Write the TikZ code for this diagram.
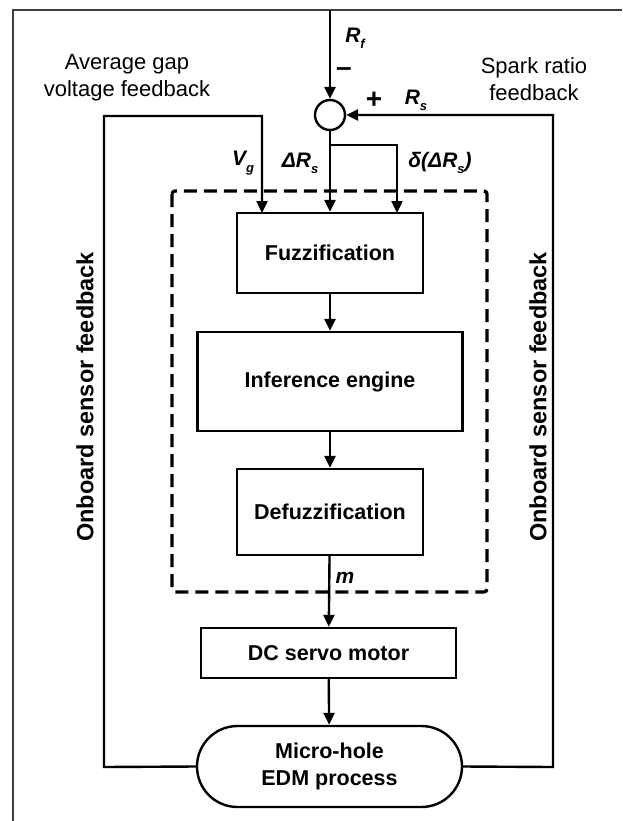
\documentclass[tikz,border=0pt]{standalone}
\usepackage{fontspec}
\setmainfont{Liberation Sans}
\usetikzlibrary{arrows.meta,shapes.misc}
\newcommand\sbs[1]{\raisebox{-0.3em}{\fontsize{13}{13}\selectfont #1}}
\begin{document}
\begin{tikzpicture}[x=1pt,y=-1pt,
  line width=2.4pt,
  arrowline/.style={-{Triangle[length=12pt,width=11pt]}},
  blk/.style={draw,rectangle,font=\fontsize{21.5}{24}\selectfont\bfseries,inner sep=0pt},
  siglabel/.style={font=\fontsize{21}{22}\selectfont\bfseries\itshape,inner sep=0pt},
  captext/.style={font=\fontsize{22}{27}\selectfont,align=center,inner sep=0pt},
  sidetext/.style={font=\fontsize{23.5}{26}\selectfont\bfseries,rotate=90,inner sep=0pt},
  outerframe/.style={line width=1.2pt,draw=black!75},
  groupbox/.style={draw,line width=3.2pt,dash pattern=on 13pt off 7pt,rounded corners=3pt}]
\useasboundingbox (0,0) rectangle (622,821);

% outer frame edges
\draw[outerframe] (622,10) -- (13,10) -- (13,821);

% controller boundary
\draw[groupbox] (172,191) rectangle (487,592);

% blocks
\node[draw,circle,minimum size=30pt,inner sep=0pt] (sum) at (330,115) {};
\node[blk,minimum width=186pt,minimum height=80pt] (fuzz) at (330,253) {Fuzzification};
\node[blk,minimum width=265pt,minimum height=99pt] (inf) at (330,381.5) {Inference engine};
\node[blk,minimum width=186pt,minimum height=86pt] (defuzz) at (330,512) {Defuzzification};
\node[blk,minimum width=255pt,minimum height=50pt] (dc) at (328.5,653) {DC servo motor};
\node[draw,rounded rectangle,minimum width=265pt,minimum height=81pt,inner sep=0pt,
      font=\fontsize{21.5}{27}\selectfont\bfseries,align=center] (edm) at (329.5,766.5)
      {Micro-hole\\EDM process};

% helper points
\coordinate (rin) at (330,10);
\coordinate (lc) at (104,767);
\coordinate (lt) at (104,116);
\coordinate (vg) at (262,213);
\coordinate (br) at (330,145);
\coordinate (brr) at (397,145);
\coordinate (dd) at (397,213);
\coordinate (rc) at (553,767);

% signal paths
\draw[arrowline] (rin) -- (sum.north);
\draw[arrowline] (edm.east) -- (rc) |- (sum.east);
\draw[arrowline] (edm.west) -- (lc) -- (lt) -| (vg);
\draw[arrowline] (sum.south) -- (fuzz.north);
\draw[arrowline] (br) -- (brr) -- (dd);
\draw[arrowline] (fuzz) -- (inf);
\draw[arrowline] (inf) -- (defuzz);
\draw[arrowline] (defuzz) -- (dc);
\draw[arrowline] (dc) -- (edm);

% signal labels
\node[siglabel] (rf) at (355,38) {R\sbs{f}};
\node[siglabel] (minus) at (344,72) {\fontsize{28}{28}\selectfont\upshape –};
\node[siglabel] (plus) at (374,100) {\fontsize{28}{28}\selectfont\upshape +};
\node[siglabel] (rs) at (416,100) {R\sbs{s}};
\node[siglabel] (vgl) at (243,163) {V\sbs{g}};
\node[siglabel] (drs) at (300,163) {ΔR\sbs{s}};
\node[siglabel] (ddrs) at (440,163) {δ(ΔR\sbs{s})};
\node[siglabel] (ml) at (345,578) {m};

% captions
\node[captext] (avg) at (127,78) {Average gap\\voltage feedback};
\node[captext] (spark) at (534,79) {Spark ratio\\feedback};
\node[sidetext] (lside) at (85,397) {Onboard sensor feedback};
\node[sidetext] (rside) at (538,397) {Onboard sensor feedback};
\end{tikzpicture}
\end{document}
